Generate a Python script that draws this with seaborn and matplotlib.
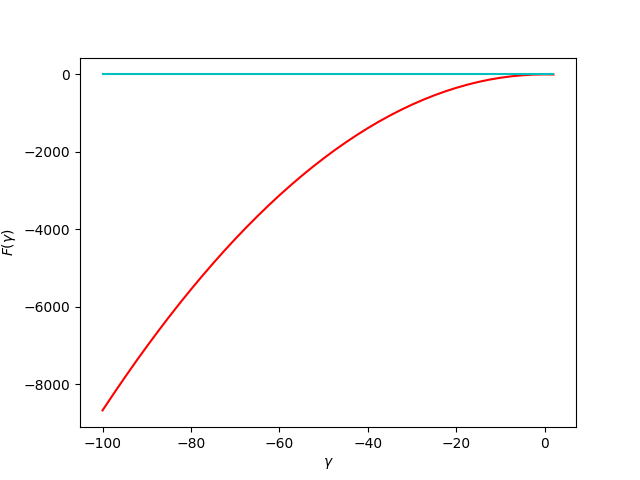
#!/usr/bin/env python3
"""
Plot F(gamma) curve against the zero line.
"""

import pandas as pd
import matplotlib.pyplot as plt
import seaborn as sns

# values
gamma = [-100, -97.5, -95, -92.5, -90, -87.5, -85, -82.5, -80, -77.5,
         -75, -72.5, -70, -67.5, -65, -62.5, -60, -57.5, -55, -52.5,
         -50, -47.5, -45, -42.5, -40, -37.5, -35, -32.5, -30, -27.5,
         -25, -22.5, -20, -17.5, -15, -12.5, -10, -7.5, -5, -2.5, 0, 2]
f_gamma = [-8670, -8242, -7825, -7418, -7023, -6638, -6264, -5901, -5549,
           -5208, -4877, -4557, -4248, -3950, -3663, -3387, -3121, -2867,
           -2623, -2390, -2168, -1956, -1756, -1566, -1387, -1219, -1062,
           -916, -780, -656, -542, -439, -347, -266, -195, -135, -87, -49,
           -22, -5, 0, -3]
zero_gamma = [-100, 2]
zero_f = [0, 0]


def create_plot():
    df = pd.DataFrame({'gamma': gamma, 'F': f_gamma})
    zero = pd.DataFrame({'gamma': zero_gamma, 'F': zero_f})

    fig, ax = plt.subplots(figsize=(6.4, 4.8), dpi=100)

    sns.lineplot(data=df, x='gamma', y='F', color='r', ax=ax,
                 estimator=None, sort=False)
    sns.lineplot(data=zero, x='gamma', y='F', color='c', ax=ax,
                 estimator=None, sort=False)

    ax.set_xlabel(r'$\gamma$')
    ax.set_ylabel(r'$F(\gamma)$')

    plt.savefig('out.png', dpi=100)
    plt.close()


if __name__ == '__main__':
    create_plot()
